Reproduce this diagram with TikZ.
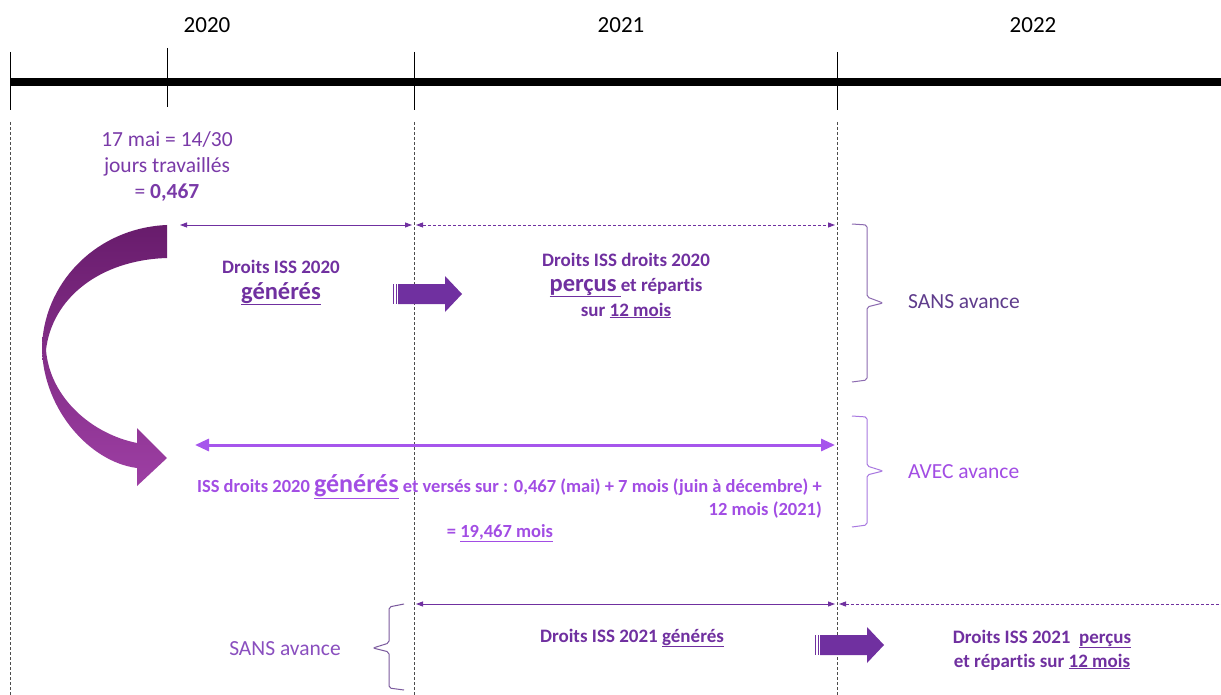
\documentclass[tikz,border=0pt]{standalone}
\usepackage{fontspec}
\setmainfont{Carlito}[Ligatures=NoCommon]
\usetikzlibrary{arrows.meta}
\definecolor{dpurple}{HTML}{7030A0}
\definecolor{mpurple}{HTML}{7A3AA8}
\definecolor{spurple}{HTML}{5F3C8C}
\definecolor{lpurple}{HTML}{A24DE4}
\definecolor{larrow}{HTML}{A656EC}
\definecolor{bpurple}{HTML}{8A4FBF}
\definecolor{brace1}{HTML}{8C6BB0}
\definecolor{brace2}{HTML}{A878E0}
\definecolor{brace3}{HTML}{7B5A9E}
\definecolor{curvetop}{HTML}{681C6C}
\definecolor{curvebot}{HTML}{9E3FA4}
\tikzset{
  txt/.style={inner sep=0pt, anchor=base},
  year/.style={txt, font=\fontsize{23}{27}\selectfont, text=black},
  vdash/.style={draw=black!70, line width=0.6pt, dash pattern=on 3pt off 2pt},
  tick/.style={draw=black, line width=1pt},
  thinarr/.style={draw=dpurple, line width=0.9pt, {Triangle[length=7pt,width=5pt]}-{Triangle[length=7pt,width=5pt]}},
  thindash/.style={thinarr, dash pattern=on 3pt off 2pt},
  bracestyle/.style={line width=1pt, rounded corners=2pt},
  barrow/.style={fill=dpurple},
  blockarrow/.pic={
    \fill[barrow] (0,-10) rectangle (1.3,10);
    \fill[barrow] (2.6,-10) rectangle (3.8,10);
    \fill[barrow] (5,-10) -- (52,-10) -- (52,-18) -- (69,0) -- (52,18) -- (52,10) -- (5,10) -- cycle;
  }
}
\begin{document}
\begin{tikzpicture}[x=1pt,y=-1pt]
\useasboundingbox[fill=white] (0,0) rectangle (1221,695);

% years
\node[year] (y20) at (207,33) {2020};
\node[year] (y21) at (621,33) {2021};
\node[year] (y22) at (1033,33) {2022};

% timeline
\coordinate (tl0) at (10,82);
\coordinate (tl1) at (1221,82);
\draw[line width=8pt, draw=black] (tl0) -- (tl1);
\draw[tick] (10,52) -- (10,110);
\draw[tick] (167,48) -- (167,107);
\draw[tick] (414,52) -- (414,110);
\draw[tick] (837,52) -- (837,110);

% dashed verticals
\draw[vdash] (10,122) -- (10,695);
\draw[vdash] (414,122) -- (414,695);
\draw[vdash] (837,122) -- (837,695);

% 17 mai text
\begin{scope}[every node/.style={txt, text=mpurple, font=\fontsize{21.5}{25}\selectfont}]
\node (m1) at (167,147) {17 mai = 14/30};
\node (m2) at (167,173) {jours travaillés};
\node (m3) at (167,199) {= \textbf{0,467}};
\end{scope}

% top arrows
\coordinate (a1) at (180,225);
\coordinate (a2) at (412,225);
\coordinate (a3) at (416,225);
\coordinate (a4) at (835,225);
\draw[thinarr] (a1) -- (a2);
\draw[thindash] (a3) -- (a4);

% curved big arrow
\shade[top color=curvetop, bottom color=curvebot]
  (167,225) .. controls (95,228) and (42,285) .. (42,350)
  .. controls (44,410) and (90,462) .. (137,468)
  -- (137,486) -- (167,458) -- (137,428) -- (137,443)
  .. controls (92,434) and (50,398) .. (46,350)
  .. controls (52,298) and (100,260) .. (167,258) -- cycle;

% Droits ISS 2020 générés
\begin{scope}[every node/.style={txt, text=dpurple, font=\bfseries\fontsize{19}{23}\selectfont}]
\node (g1) at (281,273) {Droits ISS 2020};
\node (g2) at (281,299) {\fontsize{24.5}{28}\selectfont\underline{générés}};
\node (p1) at (626,266) {Droits ISS droits 2020};
\node (p2) at (626,291) {{\fontsize{24.5}{28}\selectfont\underline{perçus\,}}et répartis};
\node (p3) at (626,316) {sur \underline{12 mois}};
\end{scope}
\pic at (393,294) {blockarrow};

% braces right
\draw[bracestyle, draw=brace1] (852,224) -- (867,225) -- (867,297) -- (883,303) -- (867,307) -- (867,380) -- (852,382);
\draw[bracestyle, draw=brace2] (852,416) -- (867,417) -- (867,466) -- (883,471) -- (867,475) -- (867,525) -- (852,527);
\node[txt, text=spurple, font=\fontsize{21.5}{25}\selectfont, anchor=base west] (sa1) at (908,308) {SANS avance};
\node[txt, text=lpurple, font=\fontsize{21.5}{25}\selectfont, anchor=base west] (av) at (908,478) {AVEC avance};

% long arrow
\coordinate (l1) at (195,445);
\coordinate (l2) at (835,445);
\draw[draw=larrow, line width=3pt, {Triangle[length=14pt,width=12pt]}-{Triangle[length=14pt,width=12pt]}] (l1) -- (l2);

\begin{scope}[every node/.style={txt, text=lpurple, font=\bfseries\fontsize{18.5}{22}\selectfont}]
\node[anchor=base east] (v1) at (822,492) {ISS droits 2020 {\fontsize{26}{30}\selectfont\underline{générés}} et versés sur : 0,467 (mai) + 7 mois (juin à décembre) +};
\node[anchor=base east] (v2) at (822,515) {12 mois (2021)};
\node (v3) at (500,537) {= \underline{19,467 mois}};
\end{scope}

% bottom
\draw[bracestyle, draw=brace3] (404,604) -- (389,607) -- (389,643) -- (373,648) -- (389,652) -- (389,688) -- (404,690);
\node[txt, text=bpurple, font=\fontsize{21.5}{25}\selectfont] (sa2) at (285,655) {SANS avance};

\coordinate (b1) at (416,604);
\coordinate (b2) at (835,604);
\coordinate (b3) at (839,604);
\coordinate (b4) at (1221,604);
\draw[thinarr] (b1) -- (b2);
\draw[dpurple, line width=0.9pt, dash pattern=on 3pt off 2pt, {Triangle[length=7pt,width=5pt]}-] (b3) -- (b4);

\begin{scope}[every node/.style={txt, text=dpurple, font=\bfseries\fontsize{19}{23}\selectfont}]
\node (c1) at (632,642) {Droits ISS 2021 \underline{générés}};
\node (c2) at (1042,643) {Droits ISS 2021~~\underline{perçus}};
\node (c3) at (1042,667) {et répartis sur \underline{12 mois}};
\end{scope}
\pic at (815,645) {blockarrow};

\end{tikzpicture}
\end{document}
